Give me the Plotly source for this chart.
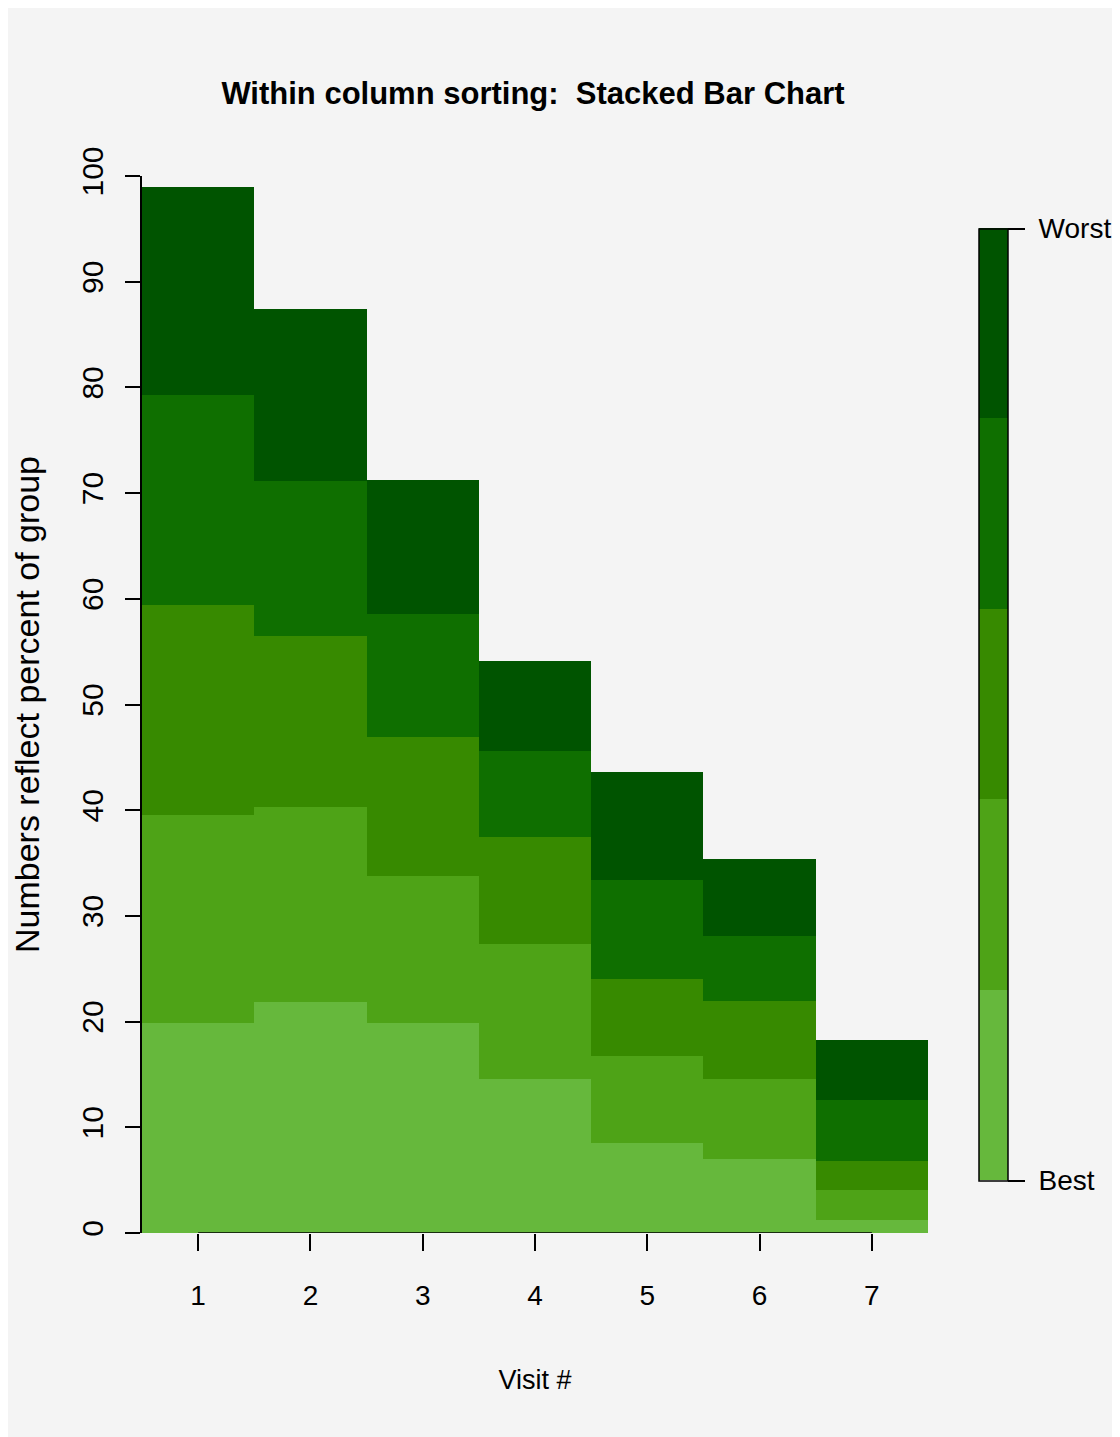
import plotly.graph_objects as go

visits = [1, 2, 3, 4, 5, 6, 7]
levels = ["Best", "2", "3", "4", "Worst"]
level_codes = [0, 1, 2, 3, 4]
# segment heights (percent of group), from bottom (Best) to top (Worst)
seg_best  = [19.9, 21.9, 19.9, 14.6, 8.5, 7.0, 1.2]
seg_2     = [19.6, 18.4, 13.9, 12.7, 8.2, 7.6, 2.9]
seg_3     = [19.9, 16.2, 13.1, 10.2, 7.3, 7.35, 2.7]
seg_4     = [19.9, 14.6, 11.7, 8.1, 9.4, 6.15, 5.8]
seg_worst = [19.7, 16.3, 12.6, 8.5, 10.2, 7.3, 5.7]
series = [seg_best, seg_2, seg_3, seg_4, seg_worst]
palette = ["#66B83C", "#4EA317", "#378A00", "#0F6F00", "#005400"]
y_ticks = list(range(0, 101, 10))
x_ticks = visits
scale_labels = ["Best", "Worst"]

# discrete colorscale (5 bands)
cs = []
for i, c in enumerate(palette):
    cs.append([i / 5, c])
    cs.append([(i + 1) / 5, c])

OFF = 8  # page body margin
W, H = 1120, 1437
pw, ph = 790, 1057
L = 138 - OFF
T = 176 - OFF
R = W - L - pw
B = H - T - ph

FONT = "Liberation Sans, Arial, sans-serif"

fig = go.Figure()
for i, (name, vals) in enumerate(zip(levels, series)):
    fig.add_trace(go.Bar(
        x=visits, y=vals, name=name, width=1,
        marker=dict(
            color=[level_codes[i]] * len(visits),
            colorscale=cs, cmin=-0.5, cmax=4.5,
            line=dict(width=0),
            showscale=(i == 0),
            colorbar=dict(
                x=(979 - 138) / pw, xanchor="left", xpad=0,
                y=0.5, yanchor="middle", ypad=0,
                len=(1181 - 229) / ph, lenmode="fraction",
                thickness=29, thicknessmode="pixels",
                outlinecolor="black", outlinewidth=1.5,
                tickvals=[-0.5, 4.5],
                ticktext=["\u00a0" + t for t in scale_labels],
                ticks="outside", ticklen=17, tickwidth=1.5, tickcolor="black",
                tickfont=dict(family=FONT, size=28, color="black"),
            ) if i == 0 else None,
        ),
        showlegend=False, hoverinfo="skip",
    ))

fig.update_layout(
    width=W, height=H,
    margin=dict(l=L, r=R, t=T, b=B, pad=0),
    barmode="stack", bargap=0,
    paper_bgcolor="#F4F4F4", plot_bgcolor="#F4F4F4",
    title=dict(text="<b>Within column sorting:  Stacked Bar Chart</b>",
               x=(533 - OFF) / W, xanchor="center", xref="container",
               y=1 - (93 - OFF) / H, yanchor="middle", yref="container",
               font=dict(family=FONT, size=31, color="black")),
    xaxis=dict(range=[0.5, 7.5], tickvals=x_ticks, ticks="outside", ticklen=17,
               tickwidth=1.5, tickcolor="black", showline=False, showgrid=False,
               zeroline=False, ticklabelstandoff=20,
               tickfont=dict(family=FONT, size=28, color="black"),
               title=dict(text="Visit #", standoff=60,
                          font=dict(family=FONT, size=27, color="black"))),
    yaxis=dict(range=[0, 100], tickvals=y_ticks, ticks="outside", ticklen=15,
               tickwidth=1.5, tickcolor="black", showline=True, linecolor="black",
               linewidth=1.5, showgrid=False, zeroline=False, tickangle=-90,
               ticklabelstandoff=10,
               tickfont=dict(family=FONT, size=30, color="black"),
               title=dict(text="Numbers reflect percent of group", standoff=32,
                          font=dict(family=FONT, size=34, color="black"))),
    yaxis2=dict(range=[0, 100], overlaying="y", side="right", tickvals=[0, 100],
                ticks="outside", ticklen=15, tickwidth=1.5, tickcolor="black",
                showline=True, linecolor="black", linewidth=1.5,
                showticklabels=False, showgrid=False, zeroline=False),
)

# R-style x axis line spanning first to last tick
fig.add_shape(type="line", xref="x", yref="y", x0=x_ticks[0], x1=x_ticks[-1],
              y0=0, y1=0, line=dict(color="black", width=1.5))

fig.write_html("out.html")
